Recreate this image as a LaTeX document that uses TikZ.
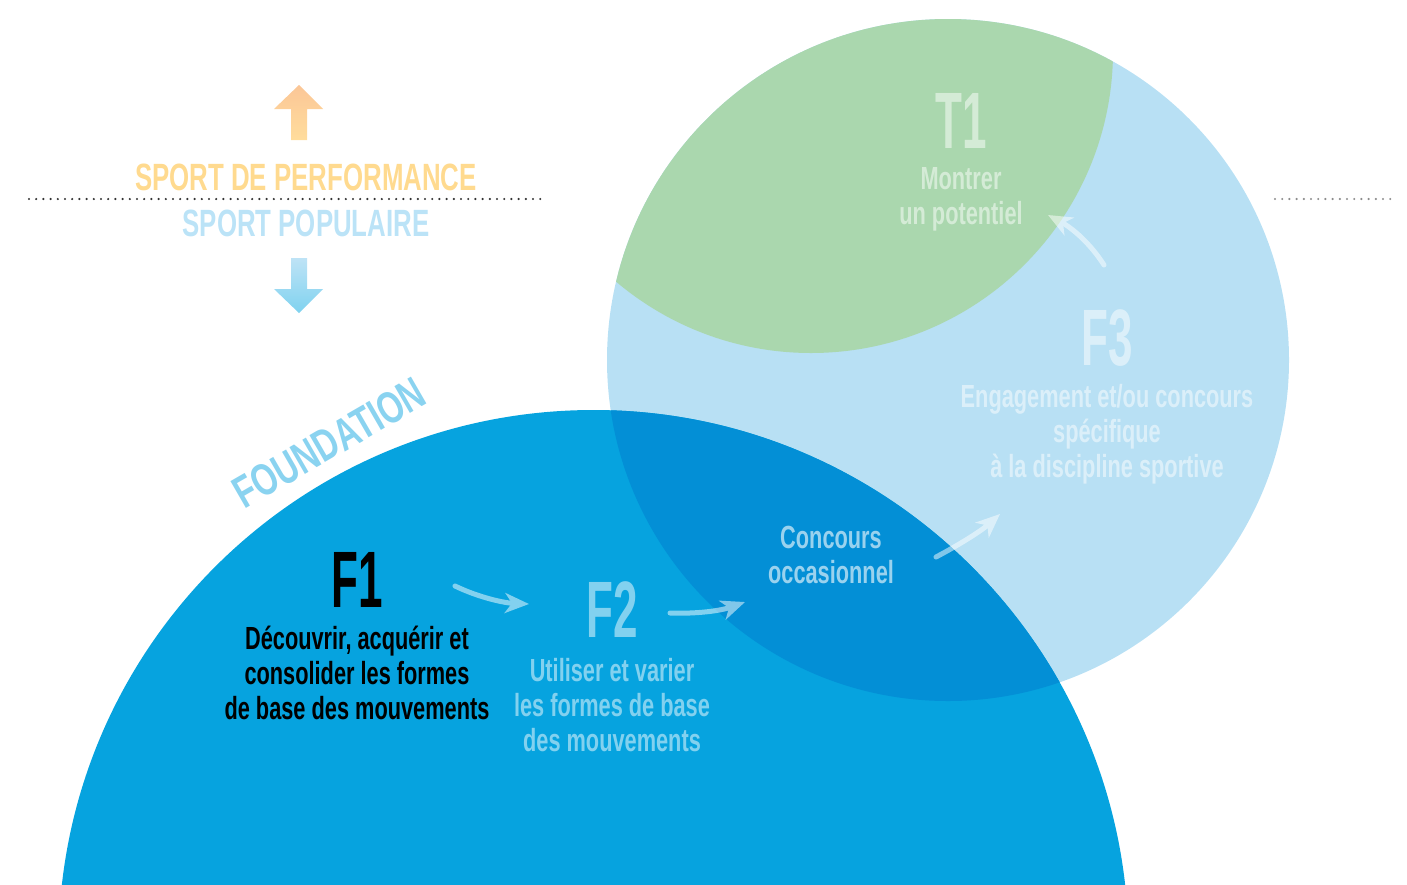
\documentclass[tikz,border=0pt]{standalone}
\usepackage{fontspec}
\usepackage{tikz}
\usetikzlibrary{positioning,arrows.meta}
\newfontfamily\condfont{Liberation Sans}[FakeStretch=0.68]
\newfontfamily\narrowfont{Liberation Sans}[FakeStretch=0.55]
\newfontfamily\widefont{Liberation Sans}[FakeStretch=0.72]
\definecolor{bigblue}{HTML}{06A3DF}
\definecolor{paleblue}{HTML}{B8E0F4}
\definecolor{deepblue}{HTML}{038FD6}
\definecolor{leaf}{HTML}{AAD7AE}
\definecolor{perfcol}{HTML}{FFDA8F}
\definecolor{perftop}{HTML}{FBC697}
\definecolor{perfbot}{HTML}{FFDD9C}
\definecolor{popucol}{HTML}{BBE3F7}
\definecolor{poputop}{HTML}{BEE3F6}
\definecolor{popubot}{HTML}{7FD2EF}
\definecolor{foundcol}{HTML}{8AD3F0}

\begin{document}
\begin{tikzpicture}[x=1pt, y=-1pt,
          lbl/.style={inner sep=0pt, anchor=base, font=\narrowfont\bfseries\fontsize{80}{80}\selectfont},
          desc/.style={inner sep=0pt, anchor=north, align=center, font=\condfont\bfseries\fontsize{32}{35}\selectfont},
          banner/.style={inner sep=0pt, anchor=base, font=\condfont\bfseries\fontsize{38}{38}\selectfont},
          pale/.style={text=white, text opacity=0.5},
          flow/.style={white, line width=5pt, line cap=round, -{Stealth[length=24pt, width=20pt, inset=7pt]}},
          dots/.style={line width=2.4pt, line cap=round, dash pattern=on 0pt off 7.2pt}]
          \useasboundingbox (0,0) rectangle (1407,884);
          \clip (0,0) rectangle (1407,884);

          \coordinate (cf3) at (948,360);
          \coordinate (ct1) at (811,51);
          \coordinate (cf) at (593.5,945);

          \fill[paleblue] (cf3) circle[radius=341pt];
          \begin{scope}
            \clip (cf3) circle[radius=341pt];
            \fill[leaf] (ct1) circle[radius=302pt];
          \end{scope}
          \fill[bigblue] (cf) circle[radius=535pt];
          \begin{scope}
            \clip (cf3) circle[radius=341pt];
            \fill[deepblue] (cf) circle[radius=535pt];
          \end{scope}

          \shade[top color=perftop, bottom color=perfbot]
            (299,85) -- (323,109) -- (307,109) -- (307,140) -- (291,140) -- (291,109) -- (274,109) -- cycle;
          \shade[top color=poputop, bottom color=popubot]
            (291,258) -- (307,258) -- (307,289) -- (323,289) -- (299,313) -- (274,289) -- (291,289) -- cycle;

          \node[banner, text=perfcol] (perf) at (306,190) {SPORT DE PERFORMANCE};
          \node[banner, text=popucol] (popu) at (306,236) {SPORT POPULAIRE};
          \draw[dots, black!80] (29,199) -- (543,199);
          \draw[dots, black!45] (1275,199) -- (1391,199);

          \node[rotate=30, inner sep=0pt, text=foundcol, font=\widefont\bfseries\fontsize{45}{45}\selectfont] (found) at (329,443) {FOUNDATION};

          \node[lbl] (f1) at (357,607) {F1};
          \node[desc, below = 19pt of f1] (f1txt) {Découvrir, acquérir et\\consolider les formes\\de base des mouvements};
          \node[lbl, pale] (f2) at (612,637) {F2};
          \node[desc, pale, below = 21pt of f2] (f2txt) {Utiliser et varier\\les formes de base\\des mouvements};
          \node[desc, pale, text opacity=0.6] (conc) at (831,526) {Concours\\occasionnel};
          \node[lbl, pale] (f3) at (1107,365) {F3};
          \node[desc, pale, below = 18pt of f3] (f3txt) {Engagement et/ou concours\\spécifique\\à la discipline sportive};
          \node[lbl, pale] (t1) at (961,148) {T1};
          \node[desc, pale, below = 19pt of t1] (t1txt) {Montrer\\un potentiel};

          \coordinate (a1s) at (455,586);
          \coordinate (a1e) at (529,604);
          \coordinate (a2s) at (670,613);
          \coordinate (a2e) at (745,602);
          \coordinate (a3s) at (936,557);
          \coordinate (a3e) at (1000,514);
          \coordinate (a4s) at (1104,265);
          \coordinate (a4e) at (1048,215);

          \begin{scope}[transparency group, opacity=0.5]
            \draw[flow] (a1s) .. controls (480,598) and (505,603) .. (a1e);
          \end{scope}
          \begin{scope}[transparency group, opacity=0.5]
            \draw[flow] (a2s) .. controls (695,614) and (720,611) .. (a2e);
          \end{scope}
          \begin{scope}[transparency group, opacity=0.5]
            \draw[flow] (a3s) .. controls (955,547) and (980,532) .. (a3e);
          \end{scope}
          \begin{scope}[transparency group, opacity=0.5]
            \draw[flow] (a4s) .. controls (1090,243) and (1072,228) .. (a4e);
          \end{scope}
        \end{tikzpicture}
\end{document}
